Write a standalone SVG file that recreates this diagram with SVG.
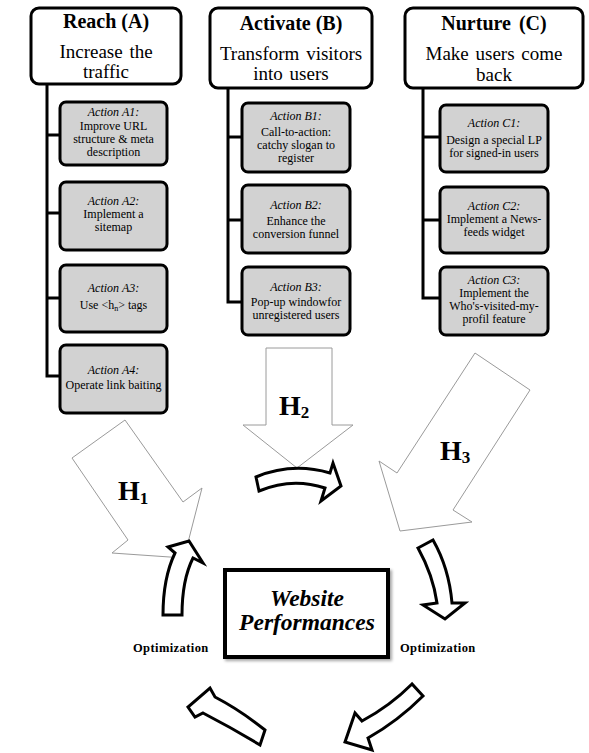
<svg xmlns="http://www.w3.org/2000/svg" width="589" height="753" viewBox="0 0 589 753">
<style>
.main{fill:#fff;stroke:#000;stroke-width:3}
.act{fill:#d2d2d2;stroke:#000;stroke-width:3}
.ttl{font-family:"Liberation Serif","Times New Roman",serif;font-weight:bold;font-size:20px;text-anchor:middle}
.sub{font-family:"Liberation Serif","Times New Roman",serif;font-size:19px;text-anchor:middle;word-spacing:2px}
.at{font-family:"Liberation Serif","Times New Roman",serif;font-size:12px;text-anchor:middle}
.ai{font-style:italic}
.big{fill:#fff;stroke:#9a9a9a;stroke-width:1}
.cyc{fill:#fff;stroke:#000;stroke-width:3;stroke-linejoin:miter}
.h{font-family:"Liberation Serif","Times New Roman",serif;font-weight:bold;font-size:28px}
.hs{font-size:17px}
.opt{font-family:"Liberation Serif","Times New Roman",serif;font-weight:bold;font-size:12.5px;letter-spacing:0.4px}
.wp{font-family:"Liberation Serif","Times New Roman",serif;font-weight:bold;font-style:italic;font-size:23.5px;text-anchor:middle}
.con{fill:none;stroke:#000;stroke-width:3}
</style>
<defs>
<filter id="sh" x="-10%" y="-10%" width="130%" height="130%"><feDropShadow dx="2" dy="2" stdDeviation="1.5" flood-color="#000" flood-opacity="0.35"/></filter>
</defs>
<rect width="589" height="753" fill="#fff"/>

<g id="connectors">
<path class="con" d="M47 84 V376 H60 M47 135 H60 M47 213 H60 M47 298 H60"/>
<path class="con" d="M228 88 V302 H242 M228 137 H242 M228 220 H242"/>
<path class="con" d="M423 88 V298 H440 M423 137 H440 M423 220 H440"/>
</g>

<g id="reach">
<rect class="main" x="31" y="8" width="150" height="76" rx="8"/>
<text class="ttl" x="106" y="28">Reach (A)</text>
<text class="sub" x="106" y="58">Increase the</text>
<text class="sub" x="106" y="78">traffic</text>
</g>
<g id="activate">
<rect class="main" x="210" y="8" width="162" height="80" rx="8"/>
<text class="ttl" x="291" y="30">Activate (B)</text>
<text class="sub" x="291" y="60">Transform visitors</text>
<text class="sub" x="291" y="80">into users</text>
</g>
<g id="nurture">
<rect class="main" x="405" y="8" width="178" height="80" rx="8"/>
<text class="ttl" x="494" y="30" style="word-spacing:3px">Nurture (C)</text>
<text class="sub" x="494" y="60">Make users come</text>
<text class="sub" x="494" y="81">back</text>
</g>

<g id="a1">
<rect class="act" x="60" y="102" width="107" height="63" rx="6"/>
<text class="at ai" x="113.5" y="116">Action A1:</text>
<text class="at" x="113.5" y="129.5">Improve URL</text>
<text class="at" x="113.5" y="142.5">structure &amp; meta</text>
<text class="at" x="113.5" y="155.5">description</text>
</g>
<g id="a2">
<rect class="act" x="60" y="182" width="107" height="68" rx="6"/>
<text class="at ai" x="113.5" y="205">Action A2:</text>
<text class="at" x="113.5" y="218">Implement a</text>
<text class="at" x="113.5" y="231">sitemap</text>
</g>
<g id="a3">
<rect class="act" x="60" y="265" width="107" height="67" rx="6"/>
<text class="at ai" x="113.5" y="292">Action A3:</text>
<text class="at" x="113.5" y="309">Use &lt;h<tspan dy="2" font-size="8">n</tspan><tspan dy="-2">&gt; tags</tspan></text>
</g>
<g id="a4">
<rect class="act" x="60" y="345" width="107" height="68" rx="6"/>
<text class="at ai" x="113.5" y="374">Action A4:</text>
<text class="at" x="113.5" y="389">Operate link baiting</text>
</g>

<g id="b1">
<rect class="act" x="242" y="103" width="108" height="69" rx="6"/>
<text class="at ai" x="296" y="120">Action B1:</text>
<text class="at" x="296" y="135.5">Call-to-action:</text>
<text class="at" x="296" y="148.5">catchy slogan to</text>
<text class="at" x="296" y="161.5">register</text>
</g>
<g id="b2">
<rect class="act" x="242" y="185" width="108" height="68" rx="6"/>
<text class="at ai" x="296" y="209">Action B2:</text>
<text class="at" x="296" y="225">Enhance the</text>
<text class="at" x="296" y="238">conversion funnel</text>
</g>
<g id="b3">
<rect class="act" x="242" y="267" width="108" height="68" rx="6"/>
<text class="at ai" x="296" y="291">Action B3:</text>
<text class="at" x="296" y="306">Pop-up windowfor</text>
<text class="at" x="296" y="319">unregistered users</text>
</g>

<g id="c1">
<rect class="act" x="440" y="105" width="108" height="67" rx="6"/>
<text class="at ai" x="494" y="127">Action C1:</text>
<text class="at" x="494" y="144">Design a special LP</text>
<text class="at" x="494" y="157">for signed-in users</text>
</g>
<g id="c2">
<rect class="act" x="440" y="187" width="108" height="66" rx="6"/>
<text class="at ai" x="494" y="210">Action C2:</text>
<text class="at" x="494" y="223">Implement a News-</text>
<text class="at" x="494" y="236">feeds widget</text>
</g>
<g id="c3">
<rect class="act" x="440" y="267" width="108" height="68" rx="6"/>
<text class="at ai" x="494" y="284">Action C3:</text>
<text class="at" x="494" y="297">Implement the</text>
<text class="at" x="494" y="310">Who's-visited-my-</text>
<text class="at" x="494" y="323">profil feature</text>
</g>

<g id="h1">
<polygon class="big" points="125,420 72,458 128,540 112,553 184,558 202,488 183,502"/>
<text class="h" x="118" y="500">H<tspan class="hs" dy="4">1</tspan></text>
</g>
<g id="h2">
<polygon class="big" points="266,348 332,348 332,425 353,425 297,468 243,425 266,425"/>
<text class="h" x="279" y="415">H<tspan class="hs" dy="3">2</tspan></text>
</g>
<g id="h3">
<polygon class="big" points="475,353 530,390 453,510 472,522 400,531 379,461 397,473"/>
<text class="h" x="440" y="460">H<tspan class="hs" dy="3">3</tspan></text>
</g>

<g id="cycle">
<path class="cyc" d="M256 477 Q292 462 330 473 L333 463 L341 486 L321 501 L325 488 Q292 477 259 491 Z"/>
<path class="cyc" d="M163 615 Q163 578 175 553 L168 547 L189 541 L203 563 L193 558 Q182 580 182 615 Z"/>
<path class="cyc" d="M418 548 Q433 575 437 603 L423 605 L445 619 L465 603 L452 603 Q449 568 433 540 Z"/>
<path class="cyc" d="M412 684 Q390 706 362 721 L355 713 L345 742 L372 750 L368 738 Q398 721 423 696 Z"/>
<path class="cyc" d="M265 730 Q240 710 215 697 L210 688 L188 707 L195 717 L203 713 Q232 728 260 745 Z"/>
</g>

<g id="website">
<rect x="225" y="570" width="163" height="87" fill="#fff" stroke="#000" stroke-width="4" filter="url(#sh)"/>
<text class="wp" x="307" y="606">Website</text>
<text class="wp" x="307" y="630">Performances</text>
</g>
<g id="opt-left"><text class="opt" x="133" y="652">Optimization</text></g>
<g id="opt-right"><text class="opt" x="400" y="652">Optimization</text></g>
</svg>
